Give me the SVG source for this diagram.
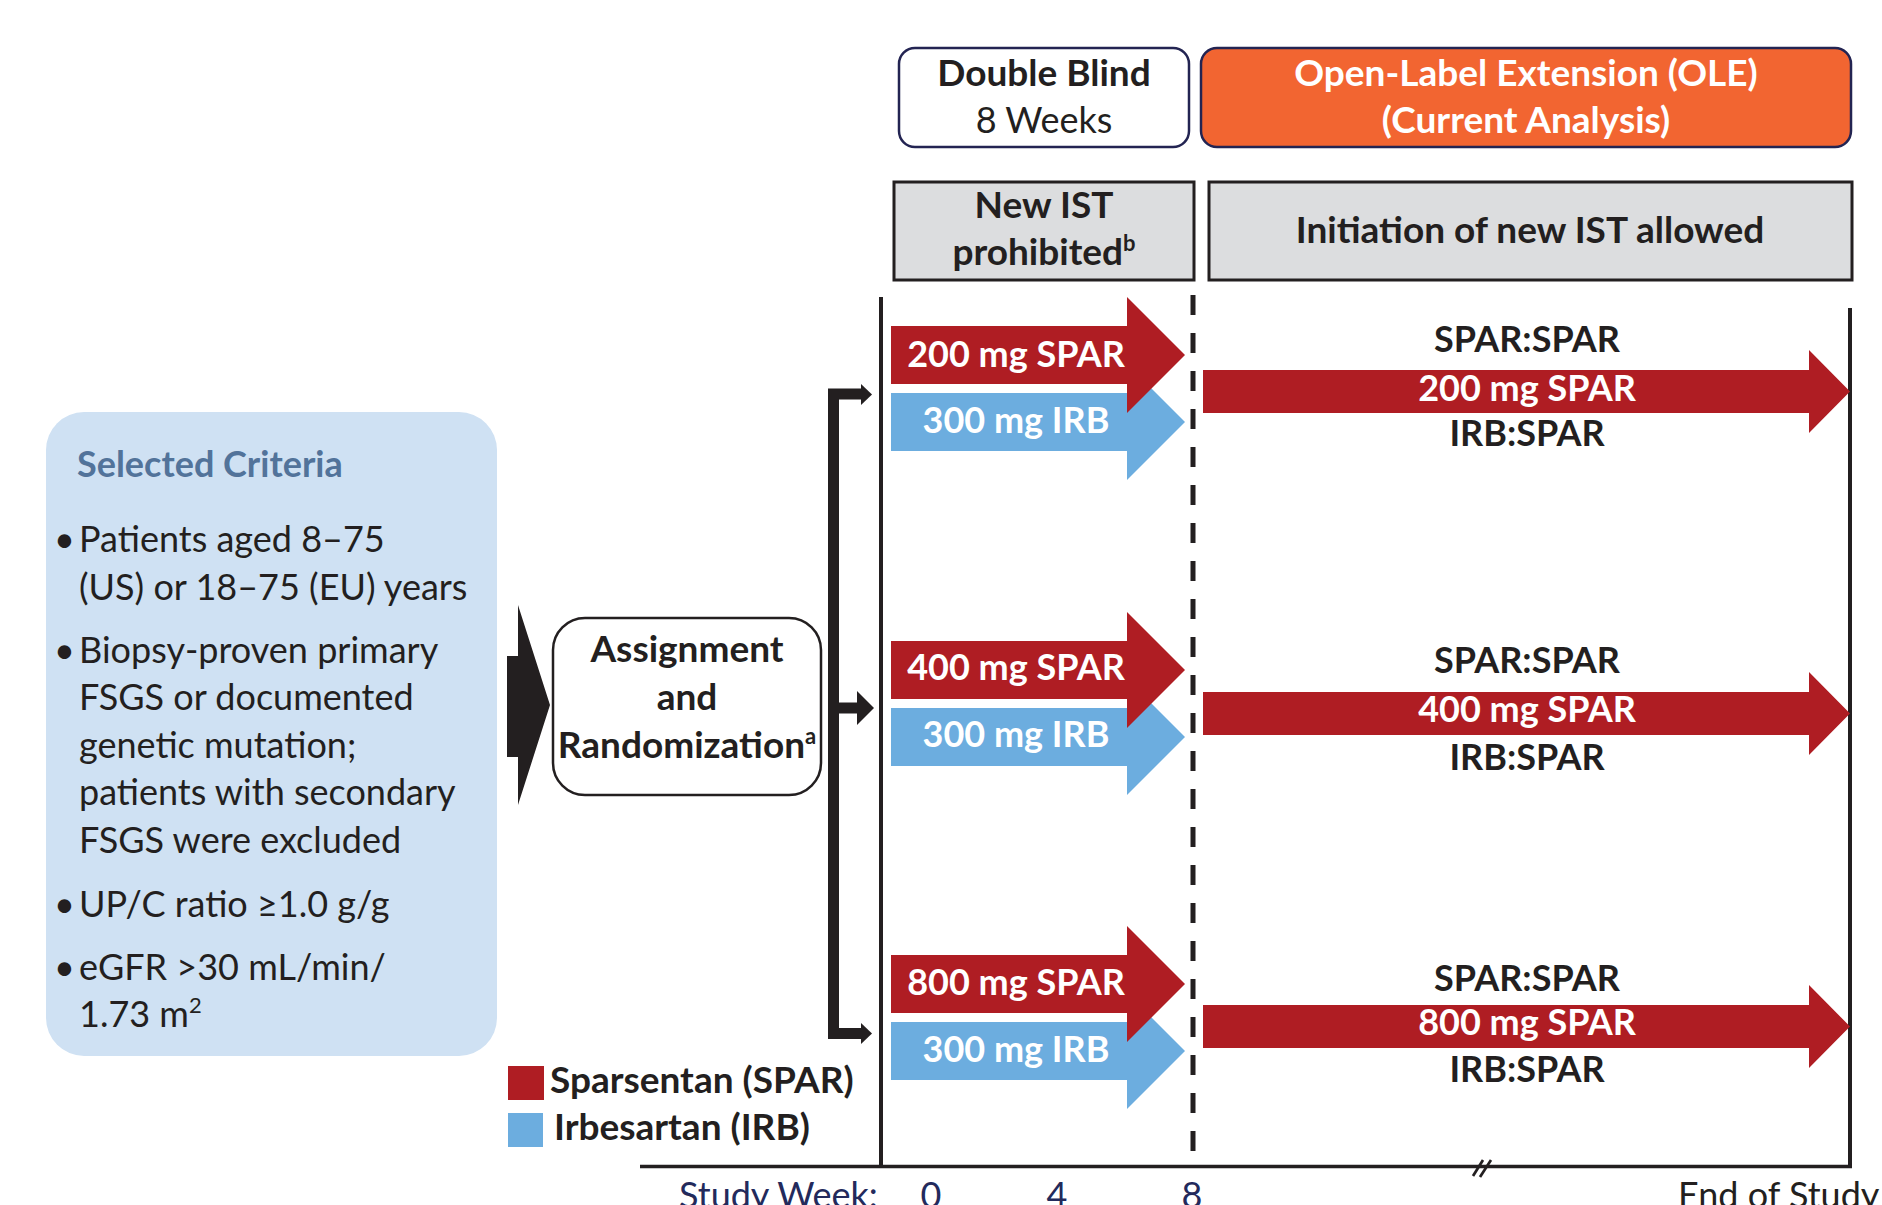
<svg xmlns="http://www.w3.org/2000/svg" width="1882" height="1205" viewBox="0 0 1882 1205">
<style>
text { font-family: Lato, "Open Sans", "Liberation Sans", sans-serif; fill: #231f20; font-size: 36px; }
.b { font-weight: 700; font-size: 37px; }
.a { font-weight: 700; font-size: 36px; }
.w { fill: #ffffff; }
.c { text-anchor: middle; }
.nv { fill: #232a5c; }
.ttl { fill: #52739a; font-weight: 700; font-size: 36px; }
.red { fill: #af1d23; }
.blue { fill: #6caddf; }
.ln { stroke: #231f20; fill: none; }
.sup { font-size: 22px; }
</style>
<rect width="1882" height="1205" fill="#ffffff"/>

<!-- Criteria box -->
<g id="criteria">
  <rect x="46" y="412" width="451" height="644" rx="38" fill="#cfe1f3"/>
  <text x="77" y="477" class="ttl">Selected Criteria</text>
  <text x="54" y="552">•</text><text x="79" y="552">Patients aged 8–75</text>
  <text x="79" y="600">(US) or 18–75 (EU) years</text>
  <text x="54" y="663">•</text><text x="79" y="663">Biopsy-proven primary</text>
  <text x="79" y="710">FSGS or documented</text>
  <text x="79" y="758">genetic mutation;</text>
  <text x="79" y="805">patients with secondary</text>
  <text x="79" y="853">FSGS were excluded</text>
  <text x="54" y="917">•</text><text x="79" y="917">UP/C ratio ≥1.0 g/g</text>
  <text x="54" y="980">•</text><text x="79" y="980">eGFR &gt;30 mL/min/</text>
  <text x="79" y="1027">1.73 m<tspan class="sup" dy="-14">2</tspan></text>
</g>

<!-- Big arrow into assignment -->
<g id="entry-arrow">
  <polygon points="507,656 518,656 518,605 550,705 518,805 518,757 507,757" fill="#231f20"/>
</g>

<!-- Assignment box -->
<g id="assignment">
  <rect x="553" y="618" width="268" height="177" rx="32" fill="#ffffff" stroke="#231f20" stroke-width="2.5"/>
  <text x="687" y="662" class="b c">Assignment</text>
  <text x="687" y="710" class="b c">and</text>
  <text x="687" y="758" class="b c">Randomization<tspan class="sup" dy="-14">a</tspan></text>
</g>

<!-- Phase headers -->
<g id="double-blind">
  <rect x="899" y="48" width="290" height="99" rx="16" fill="#ffffff" stroke="#232452" stroke-width="2.5"/>
  <text x="1044" y="86" class="b c">Double Blind</text>
  <text x="1044" y="133" class="c">8 Weeks</text>
</g>
<g id="ole">
  <rect x="1201" y="48" width="650" height="99" rx="16" fill="#f26531" stroke="#232452" stroke-width="2.5"/>
  <text x="1526" y="86" class="b c w">Open-Label Extension (OLE)</text>
  <text x="1526" y="133" class="b c w">(Current Analysis)</text>
</g>
<g id="ist-prohibited">
  <rect x="894" y="182" width="300" height="98" fill="#dcdddf" stroke="#231f20" stroke-width="3"/>
  <text x="1044" y="218" class="b c">New IST</text>
  <text x="1044" y="265" class="b c">prohibited<tspan class="sup" dy="-14">b</tspan></text>
</g>
<g id="ist-allowed">
  <rect x="1209" y="182" width="643" height="98" fill="#dcdddf" stroke="#231f20" stroke-width="3"/>
  <text x="1530" y="243" class="b c">Initiation of new IST allowed</text>
</g>

<!-- Timeline lines -->
<g id="timeline">
  <line x1="881" y1="297" x2="881" y2="1168" class="ln" stroke-width="4"/>
  <line x1="1193" y1="295" x2="1193" y2="1155" class="ln" stroke-width="5" stroke-dasharray="20 18"/>
  <line x1="1850" y1="308" x2="1850" y2="1168" class="ln" stroke-width="4"/>
  <line x1="640" y1="1166.5" x2="1852" y2="1166.5" class="ln" stroke-width="3.5"/>
  <line x1="1473" y1="1176" x2="1483" y2="1160" class="ln" stroke-width="2.7"/>
  <line x1="1480" y1="1177" x2="1491" y2="1160" class="ln" stroke-width="2.7"/>
</g>

<!-- Randomization bracket connectors -->
<g id="connectors">
  <path d="M864 394 H833.5 V1033.5 H864" class="ln" stroke-width="11" stroke-linejoin="miter"/>
  <polygon points="861,384 872,394.5 861,405" fill="#231f20"/>
  <line x1="839" y1="708" x2="858" y2="708" class="ln" stroke-width="11"/>
  <polygon points="857,691 874,708 857,725" fill="#231f20"/>
  <polygon points="861,1023 872,1033.5 861,1044" fill="#231f20"/>
</g>

<!-- Double-blind arms -->
<g id="db-arm-200">
  <polygon class="blue" points="891,393 1127,393 1127,364 1185,422 1127,480 1127,451 891,451"/>
  <polygon class="red" points="891,326 1127,326 1127,297 1185,355 1127,413 1127,384 891,384"/>
  <text x="1016" y="367" class="a c w">200 mg SPAR</text>
  <text x="1016" y="433" class="a c w">300 mg IRB</text>
</g>
<g id="db-arm-400">
  <polygon class="blue" points="891,708 1127,708 1127,679 1185,737 1127,795 1127,766 891,766"/>
  <polygon class="red" points="891,641 1127,641 1127,612 1185,670 1127,728 1127,699 891,699"/>
  <text x="1016" y="680" class="a c w">400 mg SPAR</text>
  <text x="1016" y="747" class="a c w">300 mg IRB</text>
</g>
<g id="db-arm-800">
  <polygon class="blue" points="891,1022 1127,1022 1127,993 1185,1051 1127,1109 1127,1080 891,1080"/>
  <polygon class="red" points="891,955 1127,955 1127,926 1185,984 1127,1042 1127,1013 891,1013"/>
  <text x="1016" y="995" class="a c w">800 mg SPAR</text>
  <text x="1016" y="1062" class="a c w">300 mg IRB</text>
</g>

<!-- OLE arms -->
<g id="ole-arm-200">
  <text x="1527" y="352" class="a c">SPAR:SPAR</text>
  <polygon class="red" points="1203,370 1809,370 1809,350 1850,391.5 1809,433 1809,413 1203,413"/>
  <text x="1527" y="401" class="a c w">200 mg SPAR</text>
  <text x="1527" y="446" class="a c">IRB:SPAR</text>
</g>
<g id="ole-arm-400">
  <text x="1527" y="673" class="a c">SPAR:SPAR</text>
  <polygon class="red" points="1203,692 1809,692 1809,672 1850,713.5 1809,755 1809,735 1203,735"/>
  <text x="1527" y="722" class="a c w">400 mg SPAR</text>
  <text x="1527" y="770" class="a c">IRB:SPAR</text>
</g>
<g id="ole-arm-800">
  <text x="1527" y="991" class="a c">SPAR:SPAR</text>
  <polygon class="red" points="1203,1005 1809,1005 1809,985 1850,1026.5 1809,1068 1809,1048 1203,1048"/>
  <text x="1527" y="1035" class="a c w">800 mg SPAR</text>
  <text x="1527" y="1082" class="a c">IRB:SPAR</text>
</g>

<!-- Legend -->
<g id="legend">
  <rect x="508" y="1066" width="36" height="34" class="red"/>
  <text x="550" y="1093" class="b">Sparsentan (SPAR)</text>
  <rect x="508" y="1113" width="35" height="34" class="blue"/>
  <text x="554" y="1140" class="b">Irbesartan (IRB)</text>
</g>

<!-- Axis labels -->
<g id="axis-labels">
  <text x="679" y="1208" class="nv">Study Week:</text>
  <text x="931" y="1208" class="nv c">0</text>
  <text x="1057" y="1208" class="nv c">4</text>
  <text x="1192" y="1208" class="nv c">8</text>
  <text x="1678" y="1208">End of Study</text>
</g>
</svg>
